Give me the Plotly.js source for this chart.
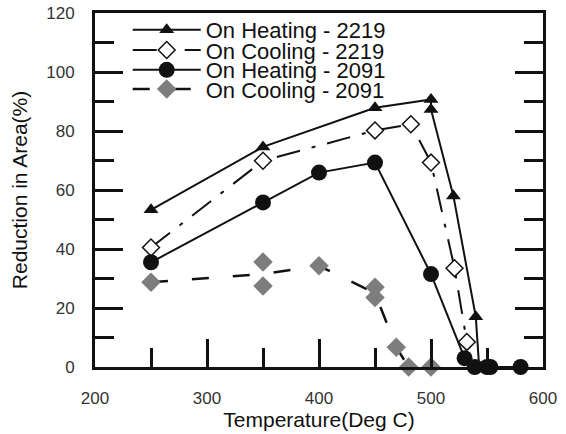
<!DOCTYPE html>
<html>
<head>
<meta charset="utf-8">
<script src="https://cdn.plot.ly/plotly-3.0.1.min.js"></script>
<style>html,body{margin:0;padding:0;background:#fff;}</style>
</head>
<body>
<div id="chart" style="width:566px;height:434px;"></div>
<script>
// ---- data ----
const tempHeat2219 = [250, 350, 450, 500, 500, 520, 540, 543];
const raHeat2219   = [53.3, 74.6, 87.9, 90.7, 87.3, 58, 17, 0];

const tempCool2219 = [250, 350, 450, 482, 500, 521, 532];
const raCool2219   = [40.5, 69.9, 80.2, 82.3, 69.3, 33.5, 8.5];

const tempHeat2091 = [250, 350, 400, 450, 500, 530, 539, 550, 553, 580];
const raHeat2091   = [35.5, 55.8, 65.9, 69.3, 31.5, 3, 0, 0, 0, 0];

// measured points (markers)
const tempCool2091 = [250, 350, 350, 400, 450, 450, 469, 480, 500];
const raCool2091   = [28.7, 35.6, 27.5, 34.3, 27, 23.6, 6.7, 0, 0];
// path of the dashed line as drawn
const tempCool2091Line = [250, 350, 400, 450, 469, 480, 500];
const raCool2091Line   = [28.7, 31.5, 34.3, 25, 6.7, 0, 0];

const seriesNames = ['On Heating - 2219', 'On Cooling - 2219', 'On Heating - 2091', 'On Cooling - 2091'];

// ---- styling ----
const FONT = 'Liberation Sans, Arial, Helvetica, sans-serif';
const INK = '#111111';
const GREY = '#7d7d7d';

const onLine = tempCool2091Line.map((t, i) =>
  tempCool2091.some((tt, j) => tt === t && raCool2091[j] === raCool2091Line[i]));
const offLineIdx = tempCool2091.map((t, j) => j).filter(j =>
  !tempCool2091Line.some((t, i) => t === tempCool2091[j] && raCool2091Line[i] === raCool2091[j]));

const traces = [
  {
    x: tempCool2091Line, y: raCool2091Line, name: seriesNames[3], legend: 'legend4',
    mode: 'lines+markers', cliponaxis: false,
    line: {color: INK, width: 2.5, dash: '17px,24px'},
    marker: {symbol: 'diamond', size: 15,
      color: onLine.map(v => v ? GREY : 'rgba(0,0,0,0)'),
      line: {width: 0}}
  },
  {
    x: offLineIdx.map(j => tempCool2091[j]), y: offLineIdx.map(j => raCool2091[j]),
    name: seriesNames[3], showlegend: false, mode: 'markers', cliponaxis: false,
    marker: {symbol: 'diamond', size: 15, color: GREY, line: {width: 0}}
  },
  {
    x: tempCool2219, y: raCool2219, name: seriesNames[1], legend: 'legend2',
    mode: 'lines+markers', cliponaxis: false,
    line: {color: INK, width: 2, dash: '24px,12px,4px,12px'},
    marker: {symbol: 'diamond', size: 13, color: '#ffffff', line: {color: INK, width: 1.5}}
  },
  {
    x: tempHeat2219, y: raHeat2219, name: seriesNames[0], legend: 'legend',
    mode: 'lines+markers', cliponaxis: false,
    line: {color: INK, width: 2},
    marker: {symbol: 'triangle-up', size: 13, color: INK}
  },
  {
    x: tempHeat2091, y: raHeat2091, name: seriesNames[2], legend: 'legend3',
    mode: 'lines+markers', cliponaxis: false,
    line: {color: INK, width: 2},
    marker: {symbol: 'circle', size: 16, color: INK}
  }
];

function leg(y) {
  return {
    x: 0.073, y: y, xanchor: 'left', yanchor: 'middle',
    bgcolor: 'rgba(0,0,0,0)', borderwidth: 0, itemwidth: 68,
    font: {family: FONT, size: 22, color: INK}
  };
}

const axisCommon = {
  showgrid: false, zeroline: false,
  showline: true, linewidth: 3, linecolor: INK,
  ticks: 'inside', ticklen: 28, tickwidth: 3, tickcolor: INK,
  tickfont: {family: FONT, size: 17, color: '#333333'}
};

const layout = {
  width: 566, height: 434,
  margin: {l: 95, r: 23, t: 13, b: 67, pad: 0, autoexpand: false},
  paper_bgcolor: '#ffffff', plot_bgcolor: '#ffffff',
  font: {family: FONT, color: INK},
  xaxis: Object.assign({}, axisCommon, {
    range: [200, 600], tick0: 200, dtick: 100, mirror: true,
    minor: {dtick: 50, ticks: 'inside', ticklen: 19, tickwidth: 3, tickcolor: INK, showgrid: false},
    ticklabelstandoff: 14,
    title: {text: 'Temperature(Deg C)', font: {family: FONT, size: 21, color: INK}, standoff: 0}
  }),
  yaxis: Object.assign({}, axisCommon, {
    range: [0, 120], tick0: 0, dtick: 20, mirror: 'ticks',
    minor: {dtick: 10, ticks: 'inside', ticklen: 19, tickwidth: 3, tickcolor: INK, showgrid: false},
    ticklabelstandoff: 14,
    title: {text: 'Reduction in Area(%)', font: {family: FONT, size: 21, color: INK}, standoff: 13}
  }),
  legend: leg(0.952),
  legend2: leg(0.895),
  legend3: leg(0.839),
  legend4: leg(0.785),
  showlegend: true
};

Plotly.newPlot('chart', traces, layout, {displayModeBar: false, staticPlot: true});
</script>
</body>
</html>
